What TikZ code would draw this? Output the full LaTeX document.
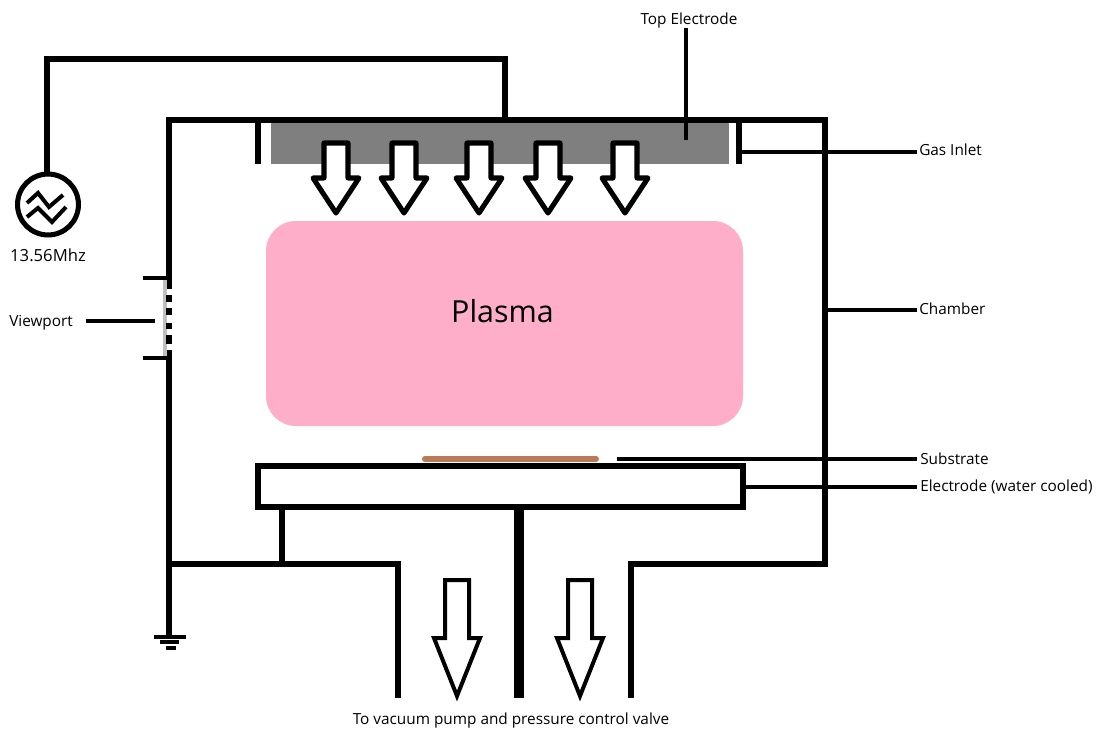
\documentclass[tikz,border=0pt]{standalone}
\usepackage{fontspec}
\setmainfont{Open Sans}
\definecolor{plasmapink}{HTML}{FFAEC9}
\definecolor{electrodegray}{HTML}{7F7F7F}
\definecolor{substratebrown}{HTML}{B97A57}
\begin{document}
\begin{tikzpicture}[x=0.75pt,y=-0.75pt,line join=miter,line cap=butt,font=\fontsize{11.5pt}{14pt}\selectfont]
	\tikzset{wall/.style={line width=4.5pt},
		leader/.style={line width=2.4pt},
		gasarrow/.style={line width=3.8pt,line join=round,fill=white},
		pumparrow/.style={line width=3pt,fill=white},
		tag/.style={inner sep=0pt,anchor=west}}
	\useasboundingbox (0,0) rectangle (1097,729);
	% electrode and plasma
	\fill[electrodegray] (271,120) rectangle (729,164);
	\fill[plasmapink,rounded corners=22.5pt] (266,221) rectangle (743,426);
	\node (plasma) at (502.5,311) {\fontsize{22.8pt}{26pt}\selectfont Plasma};
	% chamber
	\draw[wall] (169,289)--(169,120)--(825,120)--(825,564)--(631,564)--(631,698);
	\draw[wall] (169,350)--(169,636);
	\draw[wall] (169,564)--(398,564)--(398,698);
	\draw[wall] (258,120)--(258,164);
	\draw[wall] (739,120)--(739,164);
	% viewport
	\fill[gray!50] (163,280) rectangle (167,356);
	\foreach \ya/\yb in {295/302,308/315,323/329,335/344}
		\fill[black] (166,\ya) rectangle (172,\yb);
	\draw[line width=3pt] (143,278)--(168,278);
	\draw[line width=3pt] (143,358)--(168,358);
	% lower electrode
	\draw[wall] (258,466) rectangle (743,507);
	\draw[line width=5.2pt] (282,507)--(282,564);
	\draw[line width=8pt] (519,507)--(519,698);
	\draw[substratebrown,line width=4.5pt,line cap=round] (425,459)--(596,459);
	% ground
	\draw[line width=3pt] (154,637)--(186,637);
	\draw[line width=3pt] (160,642)--(179,642);
	\draw[line width=3pt] (166,648)--(176,648);
	% rf source
	\node[circle,draw,line width=3.8pt,minimum size=45.7pt,inner sep=0pt] (rfsource) at (48,204.5) {};
	\draw[wall] (rfsource.north)++(-1.5,0)--(46.5,59)--(505,59)--(505,120);
	\draw[line width=3pt] (27,203)--(38,193)--(49,207)--(63,195);
	\draw[line width=3pt] (27,217)--(38,208)--(52,222)--(66,207);
	\node (rflabel) at (48,255) {\fontsize{12.5pt}{14pt}\selectfont 13.56Mhz};
	% gas arrows
	\foreach \x in {336,404,479,548,625}
		\draw[gasarrow] (\x-12,143)--(\x+12,143)--(\x+12,178)--(\x+23,178)--(\x,213)--(\x-23,178)--(\x-12,178)--cycle;
	% pump arrows
	\foreach \x in {457,580}
		\draw[pumparrow] (\x-12,580)--(\x+12,580)--(\x+12,638)--(\x+23,638)--(\x,696)--(\x-23,638)--(\x-12,638)--cycle;
	% labels
	\node (topelectrode) at (689,21) {Top Electrode};
	\node[tag] (gasinlet) at (919,150) {Gas Inlet};
	\node[tag] (chamber) at (919,309) {Chamber};
	\node[tag] (substrate) at (920,459) {Substrate};
	\node[tag] (coolelectrode) at (920,487) {Electrode (water cooled)};
	\node[tag] (viewport) at (9,323) {Viewport};
	\node (pumplabel) at (511,721) {To vacuum pump and pressure control valve};
	% leaders
	\coordinate (topend) at (686,140);
	\coordinate (topstart) at (686,28);
	\coordinate (gasend) at (739,152);
	\coordinate (chamberend) at (825,310);
	\coordinate (substrateend) at (617,459);
	\coordinate (coolend) at (743,487);
	\coordinate (viewend) at (155,321);
	\draw[leader] (topend)--(topstart);
	\draw[leader] (gasend)--(917,152);
	\draw[leader] (chamberend)--(917,310);
	\draw[leader] (substrateend)--(917,459);
	\draw[leader] (coolend)--(917,487);
	\draw[leader] (viewend)--(86,321);
\end{tikzpicture}
\end{document}
